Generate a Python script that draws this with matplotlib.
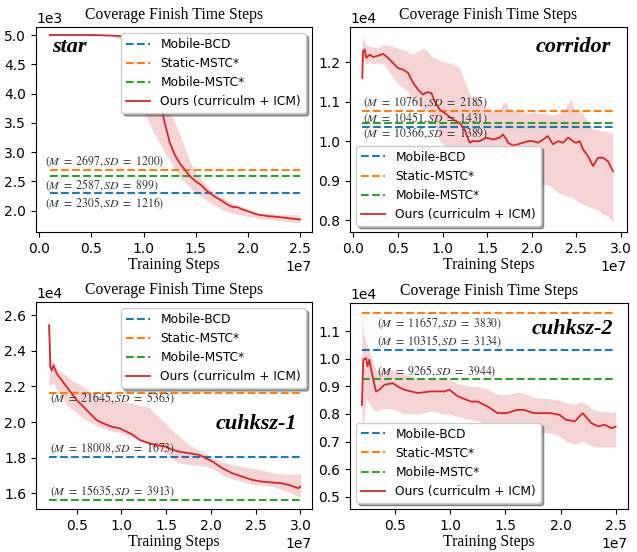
import numpy as np
import matplotlib
matplotlib.use("Agg")
import matplotlib.pyplot as plt

plt.rcParams['mathtext.fontset'] = 'stix'

# ---------------- data ----------------
labels = ["Mobile-BCD", "Static-MSTC*", "Mobile-MSTC*", "Ours (curriculm + ICM)"]

# star (x in 1e7 steps, y in 1e3)
star_x = [0.10, 0.30, 0.50, 0.70, 0.80, 0.85, 0.90, 1.00, 1.10, 1.17, 1.20, 1.25, 1.30, 1.35, 1.40, 1.45,
          1.50, 1.55, 1.60, 1.65, 1.70, 1.75, 1.80, 1.85, 1.90, 1.95, 2.00, 2.05, 2.10, 2.15, 2.20, 2.25,
          2.30, 2.35, 2.40, 2.45, 2.50]
star_mean = [5.0, 5.0, 5.0, 4.99, 4.98, 4.96, 4.90, 4.60, 4.20, 3.75, 3.52, 3.17, 2.95, 2.80, 2.69, 2.58,
             2.50, 2.44, 2.35, 2.28, 2.22, 2.17, 2.11, 2.065, 2.06, 2.02, 1.99, 1.96, 1.93, 1.92, 1.905, 1.90,
             1.89, 1.88, 1.87, 1.86, 1.85]
star_upper = [5.0, 5.0, 5.0, 5.0, 5.0, 5.0, 5.0, 5.0, 4.60, 4.10, 3.85, 3.68, 3.50, 3.30, 3.05, 2.82,
              2.65, 2.54, 2.44, 2.35, 2.29, 2.24, 2.18, 2.13, 2.09, 2.06, 2.02, 1.99, 1.96, 1.955, 1.95, 1.945,
              1.94, 1.935, 1.93, 1.93, 1.93]
star_lower = [5.0, 5.0, 5.0, 4.98, 4.90, 4.75, 4.50, 3.69, 3.33, 3.10, 2.99, 2.86, 2.70, 2.57, 2.47, 2.38,
              2.31, 2.25, 2.18, 2.12, 2.07, 2.02, 1.99, 1.96, 1.94, 1.92, 1.905, 1.89, 1.87, 1.86, 1.85, 1.84,
              1.83, 1.82, 1.81, 1.80, 1.80]
star_baselines = [2305, 2697, 2587]
star_sd = [1216, 1200, 899]

# corridor (x in 1e7, y in 1e4)
cor_x = [0.100, 0.108, 0.127, 0.145, 0.164, 0.183, 0.220, 0.276, 0.332, 0.388, 0.444, 0.500, 0.557, 0.613,
         0.668, 0.724, 0.780, 0.826, 0.874, 0.912, 0.968, 1.042, 1.117, 1.192, 1.248, 1.303, 1.341, 1.416,
         1.490, 1.565, 1.640, 1.677, 1.715, 1.733, 1.790, 1.846, 1.900, 1.960, 2.014, 2.070, 2.126, 2.180,
         2.238, 2.294, 2.350, 2.406, 2.440, 2.470, 2.500, 2.537, 2.575, 2.630, 2.686, 2.742, 2.798, 2.854,
         2.910]
cor_mean = [1.160, 1.228, 1.232, 1.211, 1.215, 1.219, 1.213, 1.216, 1.221, 1.211, 1.198, 1.185, 1.181, 1.173,
            1.148, 1.131, 1.118, 1.124, 1.122, 1.101, 1.080, 1.068, 1.055, 1.046, 1.029, 0.996, 1.000, 1.000,
            1.009, 1.004, 1.009, 1.017, 1.005, 0.996, 0.989, 0.992, 0.996, 1.000, 1.000, 0.996, 1.004, 1.013,
            0.992, 1.000, 0.996, 1.009, 1.004, 0.998, 0.996, 1.000, 0.979, 0.962, 0.937, 0.958, 0.958, 0.949,
            0.924]
cor_upper = [1.270, 1.262, 1.250, 1.245, 1.243, 1.240, 1.238, 1.236, 1.244, 1.242, 1.240, 1.235, 1.232, 1.225,
             1.220, 1.228, 1.235, 1.230, 1.215, 1.210, 1.205, 1.200, 1.195, 1.185, 1.150, 1.120, 1.110, 1.105,
             1.085, 1.075, 1.080, 1.095, 1.100, 1.085, 1.075, 1.080, 1.075, 1.070, 1.075, 1.070, 1.072, 1.070,
             1.065, 1.070, 1.075, 1.095, 1.108, 1.085, 1.075, 1.075, 1.070, 1.050, 1.030, 1.028, 1.026, 1.024,
             1.020]
cor_lower = [1.150, 1.200, 1.205, 1.195, 1.197, 1.200, 1.196, 1.198, 1.195, 1.180, 1.160, 1.145, 1.135, 1.125,
             1.105, 1.090, 1.080, 1.075, 1.065, 1.040, 1.000, 0.985, 0.975, 0.965, 0.955, 0.935, 0.925, 0.915,
             0.930, 0.920, 0.930, 0.940, 0.925, 0.920, 0.910, 0.910, 0.915, 0.915, 0.905, 0.895, 0.890, 0.890,
             0.880, 0.870, 0.865, 0.860, 0.860, 0.855, 0.850, 0.845, 0.840, 0.835, 0.830, 0.825, 0.815, 0.810,
             0.795]
cor_baselines = [10366, 10761, 10451]
cor_sd = [1389, 2185, 1431]

# cuhksz-1 (x in 1e7, y in 1e4)
c1_x = [0.190, 0.197, 0.204, 0.220, 0.240, 0.277, 0.333, 0.388, 0.444, 0.500, 0.574, 0.648, 0.722, 0.797,
        0.890, 0.982, 1.056, 1.130, 1.205, 1.316, 1.390, 1.500, 1.575, 1.650, 1.760, 1.870, 1.946, 2.020,
        2.130, 2.240, 2.350, 2.460, 2.570, 2.680, 2.790, 2.870, 2.980, 3.000]
c1_mean = [2.544, 2.441, 2.310, 2.290, 2.318, 2.271, 2.234, 2.197, 2.160, 2.123, 2.086, 2.048, 2.011, 1.992,
           1.974, 1.964, 1.946, 1.927, 1.899, 1.880, 1.871, 1.861, 1.843, 1.833, 1.824, 1.815, 1.796, 1.777,
           1.740, 1.712, 1.693, 1.675, 1.665, 1.660, 1.656, 1.646, 1.628, 1.637]
c1_upper = [2.620, 2.580, 2.400, 2.340, 2.340, 2.300, 2.280, 2.260, 2.235, 2.220, 2.200, 2.170, 2.150, 2.140,
            2.125, 2.115, 2.110, 2.105, 2.095, 2.080, 2.040, 1.990, 1.950, 1.920, 1.870, 1.840, 1.820, 1.800,
            1.775, 1.760, 1.750, 1.740, 1.730, 1.715, 1.710, 1.705, 1.710, 1.712]
c1_lower = [2.200, 2.200, 2.210, 2.220, 2.220, 2.180, 2.140, 2.100, 2.070, 2.050, 2.020, 2.000, 1.980, 1.965,
            1.950, 1.940, 1.925, 1.910, 1.895, 1.875, 1.855, 1.825, 1.790, 1.770, 1.760, 1.755, 1.750, 1.740,
            1.700, 1.680, 1.665, 1.650, 1.645, 1.640, 1.620, 1.605, 1.580, 1.580]
c1_baselines = [18008, 21645, 15635]
c1_sd = [1673, 5363, 3913]

# cuhksz-2 (x in 1e7, y in 1e4)
c2_x = [0.200, 0.212, 0.237, 0.250, 0.267, 0.297, 0.327, 0.358, 0.403, 0.479, 0.524, 0.585, 0.706, 0.827,
        0.948, 0.993, 1.069, 1.190, 1.250, 1.340, 1.430, 1.508, 1.610, 1.670, 1.760, 1.910, 1.990, 2.050,
        2.130, 2.200, 2.280, 2.340, 2.400, 2.460, 2.500]
c2_mean = [0.833, 0.997, 1.003, 0.973, 0.997, 0.936, 0.882, 0.888, 0.906, 0.912, 0.900, 0.888, 0.876, 0.882,
           0.882, 0.888, 0.864, 0.845, 0.845, 0.827, 0.803, 0.803, 0.815, 0.815, 0.803, 0.803, 0.797, 0.779,
           0.773, 0.803, 0.767, 0.755, 0.761, 0.748, 0.754]
c2_upper = [1.170, 1.100, 1.060, 1.050, 1.030, 0.990, 0.960, 0.955, 0.965, 0.960, 0.955, 0.945, 0.930, 0.925,
            0.930, 0.925, 0.910, 0.900, 0.900, 0.890, 0.870, 0.870, 0.880, 0.875, 0.860, 0.855, 0.850, 0.840,
            0.835, 0.845, 0.820, 0.810, 0.810, 0.805, 0.810]
c2_lower = [0.490, 0.750, 0.860, 0.850, 0.840, 0.820, 0.810, 0.815, 0.820, 0.820, 0.810, 0.800, 0.800, 0.810,
            0.800, 0.800, 0.790, 0.780, 0.775, 0.760, 0.750, 0.740, 0.740, 0.735, 0.735, 0.730, 0.720, 0.700,
            0.690, 0.700, 0.685, 0.680, 0.680, 0.680, 0.680]
c2_baselines = [10315, 11657, 9265]
c2_sd = [3134, 3830, 3944]

# ---------------- styling ----------------
C_BLUE, C_ORANGE, C_GREEN, C_RED = '#1f77b4', '#ff7f0e', '#2ca02c', '#d62728'
SERIF = ['Liberation Serif', 'DejaVu Serif']

fig = plt.figure(figsize=(6.37, 5.52), dpi=100)

panels = [
    dict(name='star', x=star_x, m=star_mean, u=star_upper, l=star_lower, base=star_baselines, sd=star_sd,
         xs=1e7, ys=1e3, rect=[0.0565, 0.5797, 0.4333, 0.3714], xlim=(-0.032, 2.615), ylim=(1.636, 5.137),
         xticks=[0, 0.5, 1.0, 1.5, 2.0, 2.5], yticks=[2.0, 2.5, 3.0, 3.5, 4.0, 4.5, 5.0],
         leg='upper right', tx=0.05, ty=[2.13, 2.843, 2.444],
         lab_pos=(0.06, 0.90), lab_ha='left'),
    dict(name='corridor', x=cor_x, m=cor_mean, u=cor_upper, l=cor_lower, base=cor_baselines, sd=cor_sd,
         xs=1e7, ys=1e4, rect=[0.5495, 0.5797, 0.4348, 0.3714], xlim=(-0.037, 3.067), ylim=(0.770, 1.289),
         xticks=[0, 0.5, 1.0, 1.5, 2.0, 2.5, 3.0], yticks=[0.8, 0.9, 1.0, 1.1, 1.2],
         leg='lower left', tx=0.112, ty=[1.0194, 1.0996, 1.0591],
         lab_pos=(0.943, 0.90), lab_ha='right'),
    dict(name='cuhksz-1', x=c1_x, m=c1_mean, u=c1_upper, l=c1_lower, base=c1_baselines, sd=c1_sd,
         xs=1e7, ys=1e4, rect=[0.0565, 0.0779, 0.4333, 0.3750], xlim=(0.044, 3.13), ylim=(1.511, 2.675),
         xticks=[0.5, 1.0, 1.5, 2.0, 2.5, 3.0], yticks=[1.6, 1.8, 2.0, 2.2, 2.4, 2.6],
         leg='upper right', tx=0.203, ty=[1.852, 2.1364, 1.609],
         lab_pos=(0.946, 0.413), lab_ha='right'),
    dict(name='cuhksz-2', x=c2_x, m=c2_mean, u=c2_upper, l=c2_lower, base=c2_baselines, sd=c2_sd,
         xs=1e7, ys=1e4, rect=[0.5495, 0.0779, 0.4364, 0.3732], xlim=(0.092, 2.612), ylim=(0.455, 1.203),
         xticks=[0.5, 1.0, 1.5, 2.0, 2.5], yticks=[0.5, 0.6, 0.7, 0.8, 0.9, 1.0, 1.1],
         leg='lower left', tx=0.334, ty=[1.066, 1.130, 0.957],
         lab_pos=(0.946, 0.874), lab_ha='right'),
]

for p in panels:
    ax = fig.add_axes(p['rect'])
    xs, ys = p['xs'], p['ys']
    x = np.array(p['x']) * xs
    m = np.array(p['m']) * ys
    u = np.array(p['u']) * ys
    l = np.array(p['l']) * ys
    ax.fill_between(x, l, u, color=C_RED, alpha=0.2, linewidth=0)
    for val, col, lab in zip(p['base'], [C_BLUE, C_ORANGE, C_GREEN], labels[:3]):
        ax.plot([x[0], x[-1]], [val, val], '--', color=col, lw=1.5, label=lab)
    ax.plot(x, m, color=C_RED, lw=1.3, label=labels[3])
    for val, sd, yt in zip(p['base'], p['sd'], p['ty']):
        ax.text(p['tx'] * xs, yt * ys, r'$(M\ =\ %d, SD\ =\ %d)$' % (val, sd),
                fontsize=8.5, color='#333333', ha='left', va='center')
    ax.set_xlim(p['xlim'][0] * xs, p['xlim'][1] * xs)
    ax.set_ylim(p['ylim'][0] * ys, p['ylim'][1] * ys)
    ax.set_xticks(np.array(p['xticks']) * xs)
    ax.set_yticks(np.array(p['yticks']) * ys)
    ax.ticklabel_format(axis='both', style='sci', scilimits=(0, 0))
    ax.tick_params(labelsize=10)
    ax.xaxis.get_offset_text().set_fontsize(10)
    ax.yaxis.get_offset_text().set_fontsize(10)
    ax.set_title('Coverage Finish Time Steps', family=SERIF, fontsize=11.3, pad=5.5)
    ax.set_xlabel('Training Steps', family=SERIF, fontsize=11.3, labelpad=1)
    ax.legend(loc=p['leg'], fontsize=8.8, shadow=True, framealpha=1)
    ax.text(p['lab_pos'][0], p['lab_pos'][1], p['name'], transform=ax.transAxes,
            family=SERIF, fontsize=16, fontweight='bold', fontstyle='italic',
            ha=p['lab_ha'], va='center')

fig.savefig('out.png', dpi=100)
